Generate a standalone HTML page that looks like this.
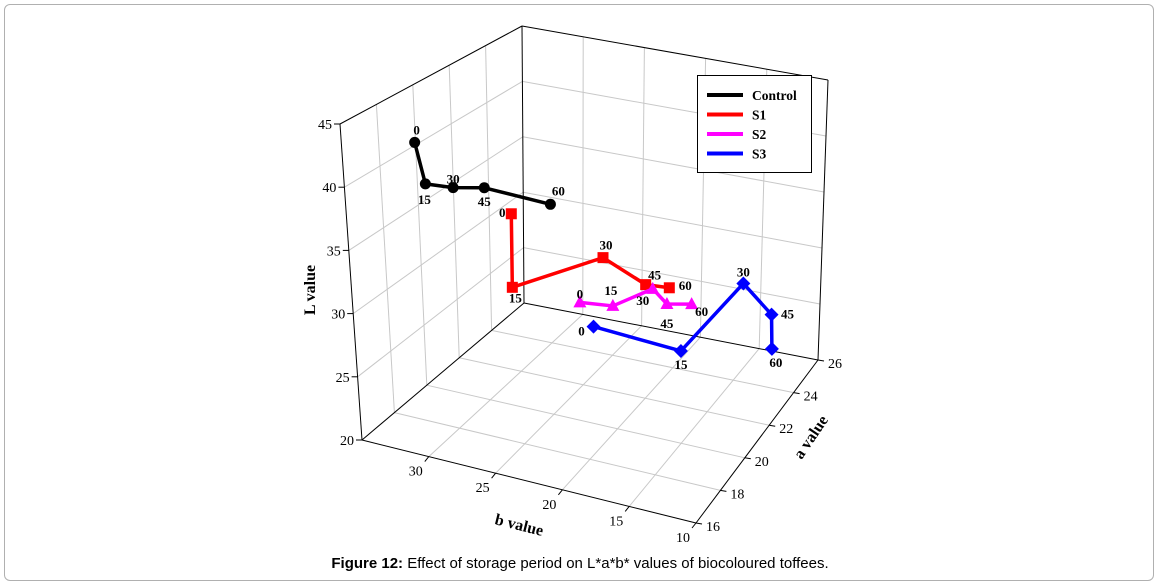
<!DOCTYPE html>
<html><head><meta charset="utf-8"><style>
html,body{margin:0;padding:0;background:#fff;}
#wrap{position:relative;width:1160px;height:586px;overflow:hidden;}
#frame{position:absolute;left:4px;top:4px;width:1150px;height:577px;border:1px solid #b0b0b0;border-radius:6px;box-sizing:border-box;}
#caption{position:absolute;left:0;width:1160px;top:555px;text-align:center;font-family:"Liberation Sans",sans-serif;font-size:15px;color:#000;}
svg{position:absolute;left:0;top:0;}
</style></head><body>
<div id="wrap">
<div id="frame"></div>
<svg id="chart" width="1160" height="586"></svg>
<div id="caption"><b>Figure 12:</b> Effect of storage period on L*a*b* values of biocoloured toffees.</div>
</div>
<script>
const days = ["0","15","30","45","60"];
const seriesNames = ["Control","S1","S2","S3"];
const controlB = [32.9,32.0,30.1,28.3,23.1];
const controlA = [18.4,18.2,18.3,18.7,18.4];
const controlL = [42,39,39,39,39];
const s1B = [27.7,26.8,21.6,17.9,16.2];
const s1A = [19.8,19.0,20.5,20.1,20.2];
const s1L = [36,31,33,32,32];
const s2B = [22.5,20.2,18.0,16.9,15.3];
const s2A = [19.7,19.9,20.7,20.7,21.0];
const s2L = [30,30,31,30,30];
const s3B = [21.7,16.1,13.2,10.8,10.8];
const s3A = [19.9,21.0,22.9,22.8,22.9];
const s3L = [28,26,30,28,25];
const lTicks = [20,25,30,35,40,45];
const bTicks = [10,15,20,25,30];
const aTicks = [16,18,20,22,24,26];

const NS="http://www.w3.org/2000/svg";
const svg=document.getElementById('chart');
const B0=35,B1=10,A0=16,A1=26,L0=20,L1=45;
const F={"00":[362,440],"10":[696,523],"01":[524,303],"11":[818,360]};
const T={"00":[340,124],"10":[700,185],"01":[522,26],"11":[828,80]};
function P(b,a,L){
  const u=(B0-b)/(B0-B1), v=(a-A0)/(A1-A0), t=(L-L0)/(L1-L0);
  function bil(C,i){return C["00"][i]*(1-u)*(1-v)+C["10"][i]*u*(1-v)+C["01"][i]*(1-u)*v+C["11"][i]*u*v;}
  return [bil(F,0)*(1-t)+bil(T,0)*t, bil(F,1)*(1-t)+bil(T,1)*t];
}
function el(tag,attrs,parent){const e=document.createElementNS(NS,tag);for(const k in attrs)e.setAttribute(k,attrs[k]);(parent||svg).appendChild(e);return e;}
function line(p,q,stroke,w,name){
  const e=el('line',{x1:p[0],y1:p[1],x2:q[0],y2:q[1],stroke:stroke,'stroke-width':w});
  
  
  return e;
}
function text(x,y,s,attrs,name){
  const e=el('text',Object.assign({x:x,y:y,'font-family':'"Liberation Serif",serif','font-size':'13'},attrs));
  e.textContent=s;
  
  
  return e;
}
const G='#c8c8c8';
[15,20,25,30].forEach(b=>line(P(b,A1,L0),P(b,A1,L1),G,1,'back-wall-gridline'));
[25,30,35,40].forEach(L=>line(P(B0,A1,L),P(B1,A1,L),G,1,'back-wall-gridline'));
[18,20,22,24].forEach(a=>line(P(B0,a,L0),P(B0,a,L1),G,1,'left-wall-gridline'));
[25,30,35,40].forEach(L=>line(P(B0,A0,L),P(B0,A1,L),G,1,'left-wall-gridline'));
[15,20,25,30].forEach(b=>line(P(b,A0,L0),P(b,A1,L0),G,1,'floor-gridline'));
[18,20,22,24].forEach(a=>line(P(B0,a,L0),P(B1,a,L0),G,1,'floor-gridline'));
const K='#000';
line(P(B0,A0,L0),P(B0,A0,L1),K,1,'l-axis-line');
line(P(B0,A0,L0),P(B1,A0,L0),K,1,'b-axis-line');
line(P(B1,A0,L0),P(B1,A1,L0),K,1,'a-axis-line');
line(P(B0,A0,L0),P(B0,A1,L0),K,1,'box-edge');
line(P(B0,A1,L0),P(B1,A1,L0),K,1,'box-edge');
line(P(B0,A1,L0),P(B0,A1,L1),K,1,'box-edge');
line(P(B1,A1,L0),P(B1,A1,L1),K,1,'box-edge');
line(P(B0,A0,L1),P(B0,A1,L1),K,1,'box-edge');
line(P(B0,A1,L1),P(B1,A1,L1),K,1,'box-edge');
lTicks.forEach(L=>{const p=P(B0,A0,L);line(p,[p[0]-6,p[1]],K,1,'l-tick');text(p[0]-8,p[1]+5,String(L),{'text-anchor':'end','font-size':'14'},'l-tick-label');});
bTicks.forEach(b=>{const p=P(b,A0,L0);line(p,[p[0]-4,p[1]+5],K,1,'b-tick');text(p[0]-13,p[1]+19,String(b),{'text-anchor':'middle','font-size':'14'},'b-tick-label');});
aTicks.forEach(a=>{const p=P(B1,a,L0);line(p,[p[0]+6,p[1]+1],K,1,'a-tick');text(p[0]+10,p[1]+8,String(a),{'text-anchor':'start','font-size':'14'},'a-tick-label');});
text(0,0,'L value',{'font-weight':'bold','font-size':'16','text-anchor':'middle',transform:'translate(315,290) rotate(-90)'},'l-axis-title');
text(0,0,'b value',{'font-weight':'bold','font-size':'16','text-anchor':'middle',transform:'translate(518,530) rotate(14)'},'b-axis-title');
text(0,0,'a value',{'font-weight':'bold','font-size':'16','text-anchor':'middle',transform:'translate(815,440) rotate(-56)'},'a-axis-title');
const colors=['#000000','#ff0000','#ff00ff','#0000ff'];
const allB=[controlB,s1B,s2B,s3B], allA=[controlA,s1A,s2A,s3A], allL=[controlL,s1L,s2L,s3L];
const labelOff=[
 [[2,-8],[-1,20],[0,-4],[0,18],[8,-9]],
 [[-9,3],[3,15],[3,-8],[9,-5],[16,2]],
 [[0,-4],[-2,-11],[-10,16],[0,24],[10,12]],
 [[-12,9],[0,18],[0,-7],[16,4],[4,18]]];
const shapes=['circle','square','triangle','diamond'];
for(let s=0;s<4;s++){
  const pts=days.map((d,i)=>P(allB[s][i],allA[s][i],allL[s][i]));
  const pl=el('polyline',{points:pts.map(p=>p.join(',')).join(' '),fill:'none',stroke:colors[s],'stroke-width':3.5,'stroke-linejoin':'round'});
  
  
  pts.forEach((p,i)=>{
    let m;
    if(shapes[s]==='circle') m=el('circle',{cx:p[0],cy:p[1],r:5.5,fill:colors[s]});
    else if(shapes[s]==='square') m=el('rect',{x:p[0]-5.5,y:p[1]-5.5,width:11,height:11,fill:colors[s]});
    else if(shapes[s]==='triangle') m=el('polygon',{points:`${p[0]},${p[1]-7} ${p[0]-6.5},${p[1]+5} ${p[0]+6.5},${p[1]+5}`,fill:colors[s]});
    else m=el('polygon',{points:`${p[0]},${p[1]-7} ${p[0]+7},${p[1]} ${p[0]},${p[1]+7} ${p[0]-7},${p[1]}`,fill:colors[s]});
    
    
    const o=labelOff[s][i];
    text(p[0]+o[0],p[1]+o[1],days[i],{'font-weight':'bold','text-anchor':'middle'},'point-label');
  });
}
const lg=el('g',{});


const lb=el('rect',{x:697.5,y:75.5,width:114,height:97,fill:'#fff',stroke:'#000','stroke-width':1},lg);


seriesNames.forEach((n,i)=>{
  const y=95+i*19.5;
  const l=el('line',{x1:707,y1:y,x2:743,y2:y,stroke:colors[i],'stroke-width':4},lg);
  
  
  const t=el('text',{x:752,y:y+5,'font-family':'"Liberation Serif",serif','font-size':'13.5','font-weight':'bold'},lg);
  t.textContent=n;
  
  
});
</script>
</body></html>
